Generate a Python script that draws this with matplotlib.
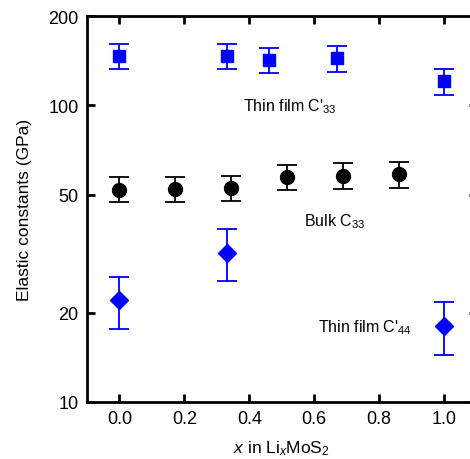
import matplotlib
matplotlib.use("Agg")
from matplotlib import pyplot as plt
from matplotlib.ticker import FixedLocator, FixedFormatter, NullLocator

plt.rcParams.update({
    "font.family": "Liberation Sans",
    "font.size": 11,
    "mathtext.fontset": "custom",
    "mathtext.rm": "Liberation Sans",
    "mathtext.it": "Liberation Sans:italic",
    "mathtext.bf": "Liberation Sans:bold",
})

BLUE = "#0000ff"

# Thin film C'33
film33_x = [0.0, 0.33, 0.46, 0.67, 1.0]
film33_y = [147, 147, 142, 144.5, 120.5]
film33_lo = [132.5, 132.5, 128.5, 130, 108]
film33_hi = [161, 161, 156, 158, 132.5]

# Bulk C33
bulk_x = [0.0, 0.172, 0.344, 0.516, 0.69, 0.862]
bulk_y = [52.0, 52.3, 52.6, 57.2, 57.9, 58.7]
bulk_lo = [47.1, 47.3, 47.5, 51.8, 52.3, 52.6]
bulk_hi = [57.2, 57.5, 57.8, 63.1, 63.8, 64.3]

# Thin film C'44
film44_x = [0.0, 0.33, 1.0]
film44_y = [22.0, 31.9, 18.1]
film44_lo = [17.6, 25.6, 14.4]
film44_hi = [26.3, 38.3, 21.7]

yticks = [10, 20, 50, 100, 200]
xticks = [0.0, 0.2, 0.4, 0.6, 0.8, 1.0]


def errs(y, lo, hi):
    return [[v - l for v, l in zip(y, lo)], [h - v for v, h in zip(y, hi)]]


fig = plt.figure(figsize=(4.7, 4.6), dpi=100)
ax = fig.add_axes([0.185, 0.124, 0.829, 0.839])

ax.errorbar(film33_x, film33_y, yerr=errs(film33_y, film33_lo, film33_hi),
            fmt="s", color=BLUE, ms=8.5, capsize=7, elinewidth=1.3, capthick=1.3)
ax.errorbar(bulk_x, bulk_y, yerr=errs(bulk_y, bulk_lo, bulk_hi),
            fmt="o", color="black", ms=10, capsize=7, elinewidth=1.3, capthick=1.3)
ax.errorbar(film44_x, film44_y, yerr=errs(film44_y, film44_lo, film44_hi),
            fmt="D", color=BLUE, ms=9, capsize=7, elinewidth=1.3, capthick=1.3)

ax.text(0.38, 100, r"Thin film C$'_{33}$", va="center", ha="left", fontsize=11.5)
ax.text(0.57, 40.7, r"Bulk C$_{33}$", va="center", ha="left", fontsize=11.5)
ax.text(0.612, 18.0, r"Thin film C$'_{44}$", va="center", ha="left", fontsize=11.5)

ax.set_yscale("log")
ax.set_ylim(10, 200)
ax.set_xlim(-0.1, 1.1)
ax.yaxis.set_major_locator(FixedLocator(yticks))
ax.yaxis.set_major_formatter(FixedFormatter([str(t) for t in yticks]))
ax.yaxis.set_minor_locator(NullLocator())
ax.set_xticks(xticks)
ax.set_xticklabels([f"{t:.1f}" for t in xticks])

for s in ax.spines.values():
    s.set_linewidth(2.0)
ax.tick_params(direction="in", length=6, width=2.0, top=True, right=True,
               labelsize=13, pad=6)

ax.set_ylabel("Elastic constants (GPa)", fontsize=12.5, labelpad=12)
ax.set_xlabel(r"$x$ in Li$_x$MoS$_2$", fontsize=12.5, labelpad=8)

fig.savefig("out.png", dpi=100)
